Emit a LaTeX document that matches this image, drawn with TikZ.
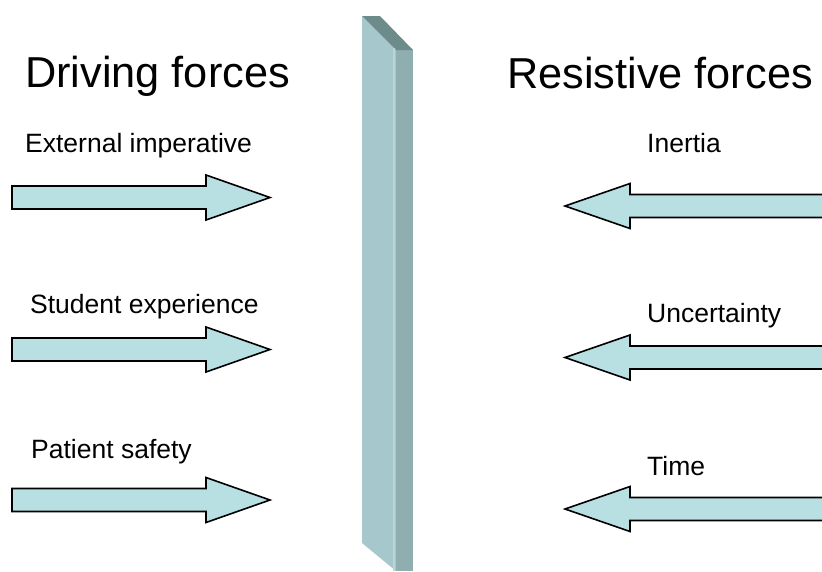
\documentclass[tikz,border=0pt]{standalone}
\usepackage{fontspec}
\setmainfont{Liberation Sans}
\definecolor{arrowfill}{RGB}{184,224,226}
\definecolor{wallfront}{RGB}{166,199,203}
\definecolor{wallside}{RGB}{142,174,176}
\definecolor{walltop}{RGB}{110,139,139}
\definecolor{walledge}{RGB}{184,212,215}
\begin{document}
\begin{tikzpicture}[
    x=1pt, y=-1pt,
    titlestyle/.style={anchor=base west, inner sep=0pt, font=\fontsize{43.3}{50}\selectfont},
    labelstyle/.style={anchor=base west, inner sep=0pt, font=\fontsize{26.5}{30}\selectfont},
    forcearrow/.style={draw=black, fill=arrowfill, line width=1.6pt, line join=miter}
]
    \useasboundingbox (0,0) rectangle (822,571);
    \clip (0,0) rectangle (822,571);

    % the wall in the middle
    \fill[wallfront] (362,16) -- (396,50) -- (396,571) -- (362,543) -- cycle;
    \fill[wallside] (396,50) -- (413,50) -- (413,571) -- (396,571) -- cycle;
    \fill[walltop] (362,16) -- (380,16) -- (413,50) -- (396,50) -- cycle;
    \draw[walledge, line width=2pt] (394,48) -- (394,571);

    % headings
    \node[titlestyle] (driving) at (25,87) {Driving forces};
    \node[titlestyle] (resistive) at (507,88) {Resistive forces};

    % driving forces, pushing right
    \node[labelstyle] (external) at (25,152) {External imperative};
    \draw[forcearrow] (12,186) -- ++(194,0) -- ++(0,-11) -- ++(64,22.5) -- ++(-64,22.5) -- ++(0,-11) -- ++(-194,0) -- cycle;

    \node[labelstyle] (student) at (30,313) {Student experience};
    \draw[forcearrow] (12,338) -- ++(194,0) -- ++(0,-11) -- ++(64,22.5) -- ++(-64,22.5) -- ++(0,-11) -- ++(-194,0) -- cycle;

    \node[labelstyle] (patient) at (31,458) {Patient safety};
    \draw[forcearrow] (12,488.5) -- ++(194,0) -- ++(0,-11) -- ++(64,22.5) -- ++(-64,22.5) -- ++(0,-11) -- ++(-194,0) -- cycle;

    % resistive forces, pushing left
    \node[labelstyle] (inertia) at (647,152) {Inertia};
    \draw[forcearrow] (565,206) -- ++(65,-22.5) -- ++(0,11) -- ++(200,0) -- ++(0,23) -- ++(-200,0) -- ++(0,11) -- cycle;

    \node[labelstyle] (uncertainty) at (647,322) {Uncertainty};
    \draw[forcearrow] (565,357.5) -- ++(65,-22.5) -- ++(0,11) -- ++(200,0) -- ++(0,23) -- ++(-200,0) -- ++(0,11) -- cycle;

    \node[labelstyle] (time) at (647,475) {Time};
    \draw[forcearrow] (565,509) -- ++(65,-22.5) -- ++(0,11) -- ++(200,0) -- ++(0,23) -- ++(-200,0) -- ++(0,11) -- cycle;
\end{tikzpicture}
\end{document}
